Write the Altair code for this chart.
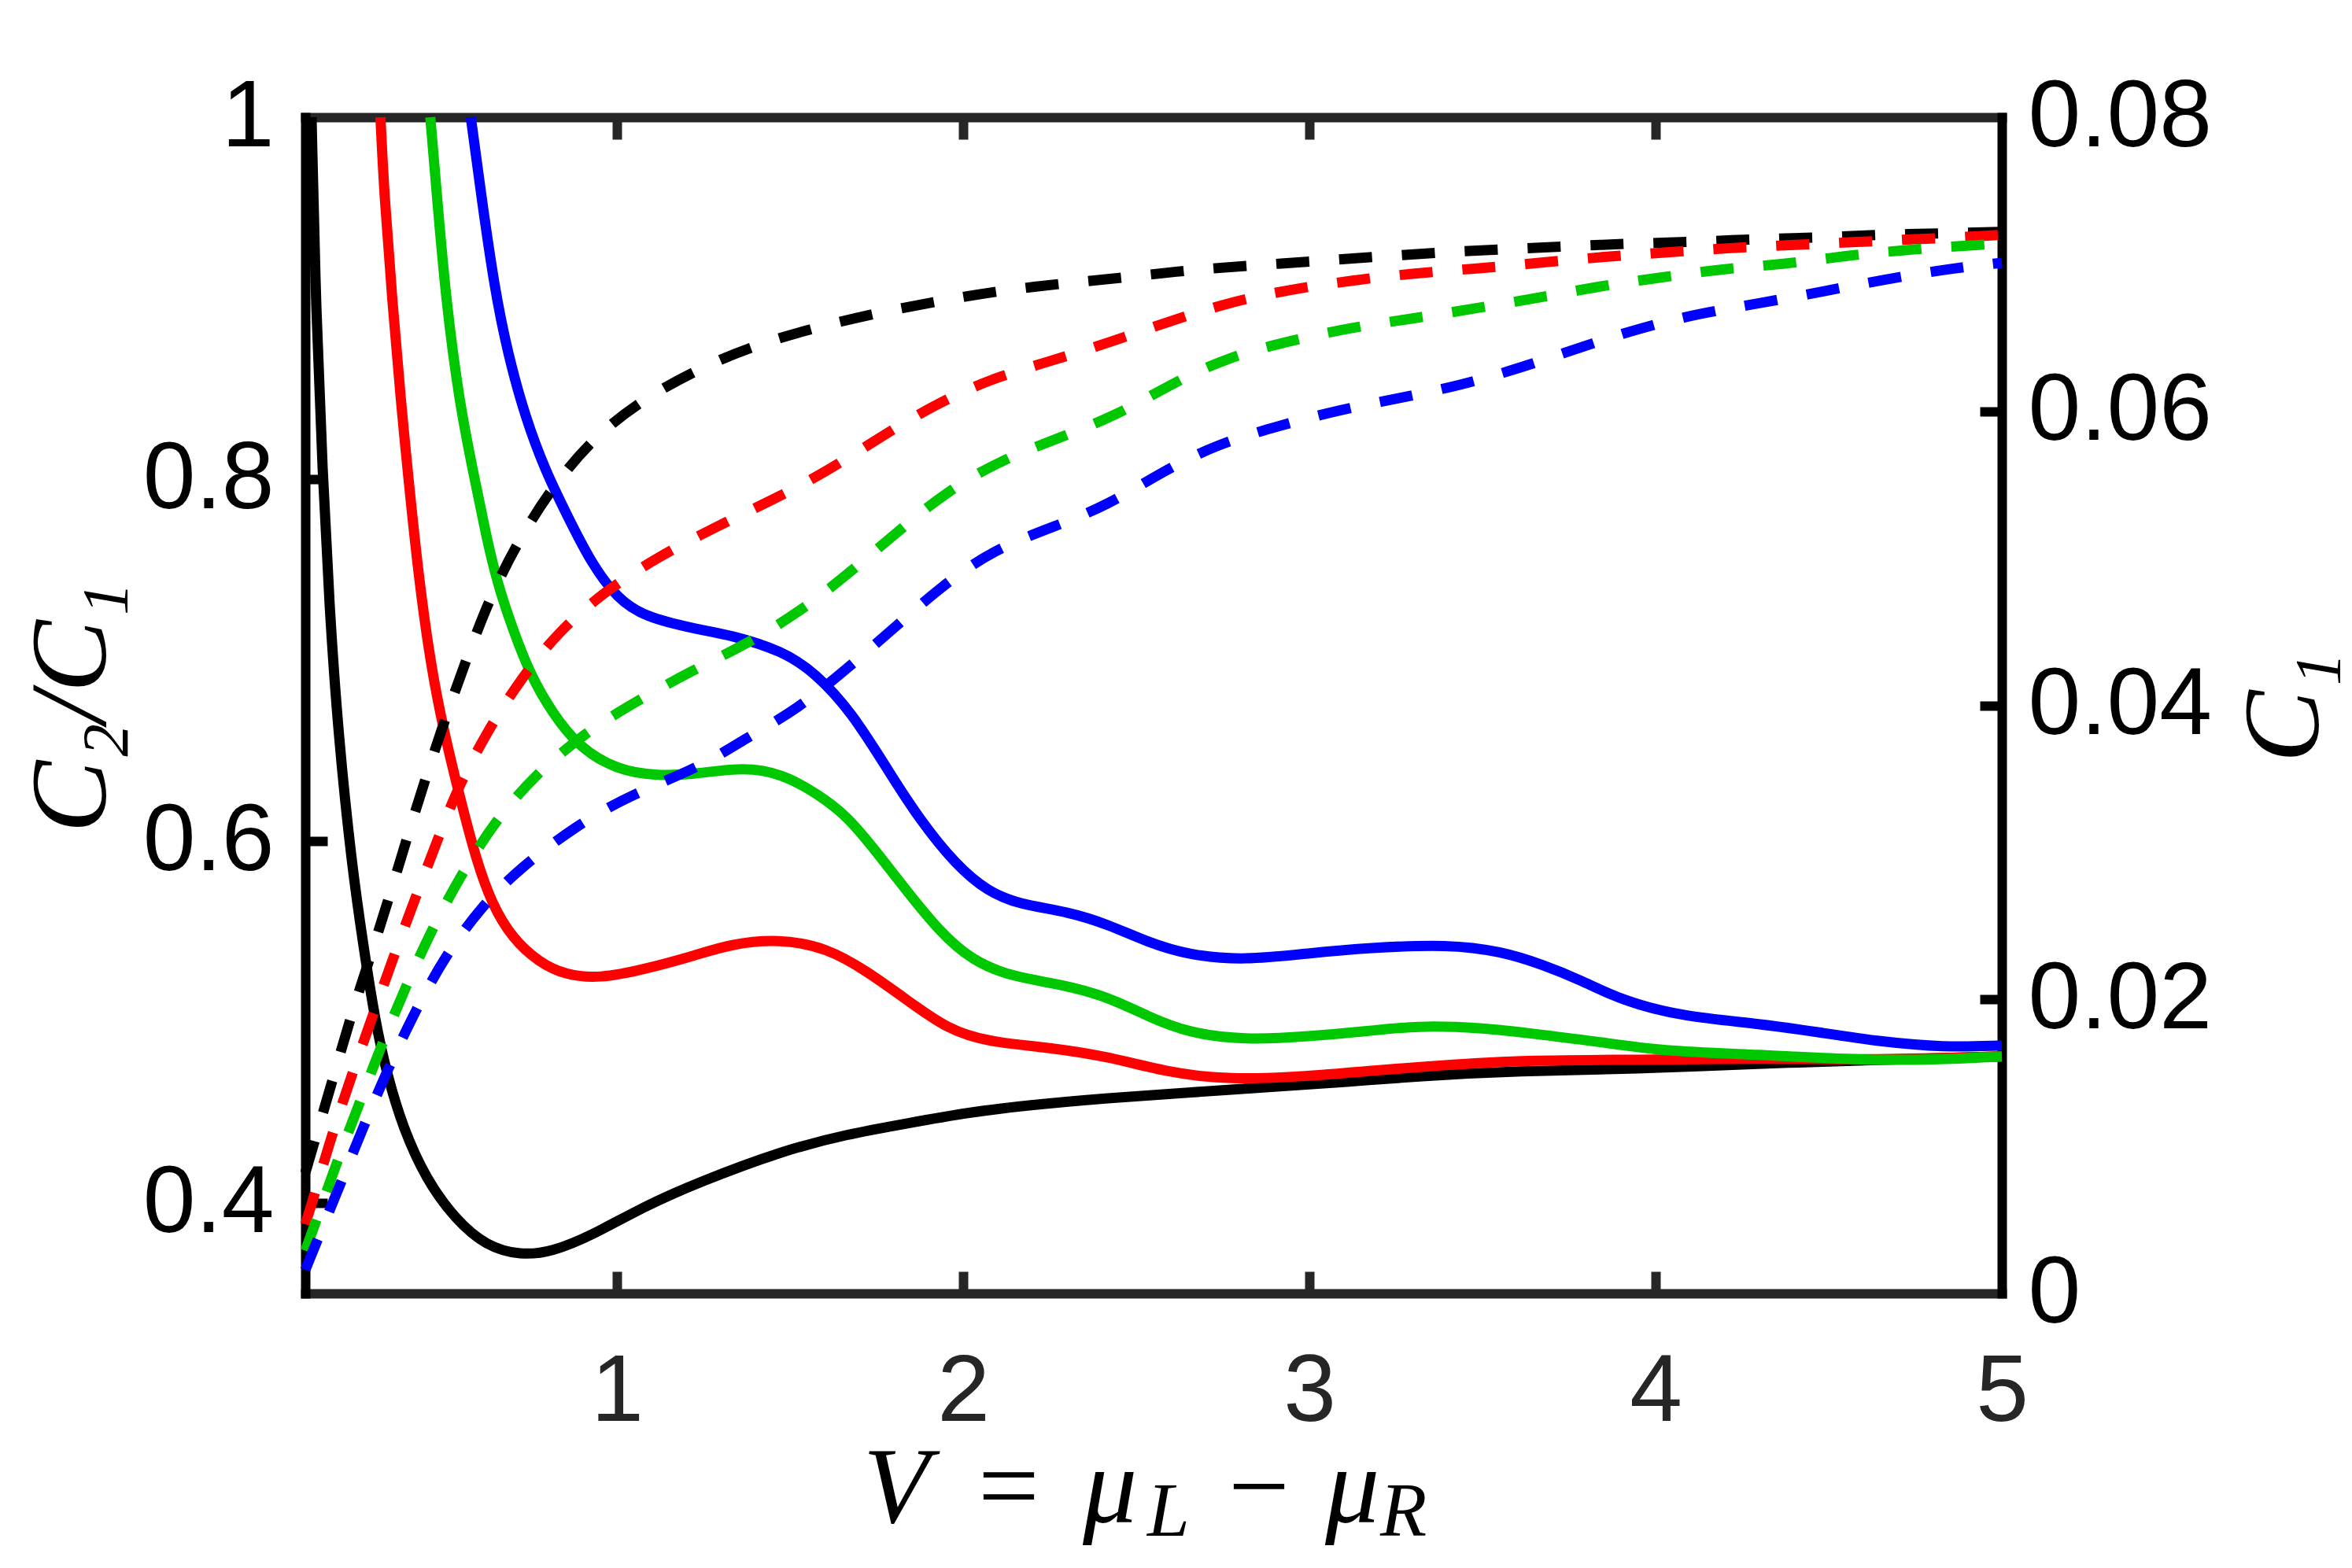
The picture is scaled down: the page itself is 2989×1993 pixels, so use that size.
import altair as alt
import pandas as pd

# ---------------- data ----------------
V_MIN, V_MAX = 0.1, 5.0
RATIO_MIN, RATIO_MAX = 0.35, 1.0
C1_MIN, C1_MAX = 0.0, 0.08

SERIES = ["black", "red", "green", "blue"]
COLORS = ["#000000", "#ff0000", "#00c800", "#0000ff"]

X_LABEL_TICKS = [1, 2, 3, 4, 5]
X_INNER_TICKS = [1, 2, 3, 4]
RATIO_LABEL_TICKS = [0.4, 0.6, 0.8, 1.0]
RATIO_INNER_TICKS = [0.4, 0.6, 0.8]
C1_LABEL_TICKS = [0, 0.02, 0.04, 0.06, 0.08]
C1_INNER_TICKS = [0.02, 0.04, 0.06]

# solid curves: C2/C1 (left axis)
BLACK_RATIO_V = [0.118, 0.131, 0.150, 0.169, 0.195, 0.234, 0.267, 0.302, 0.336, 0.381, 0.449, 0.533,
                 0.623, 0.722, 0.813, 0.927, 1.078, 1.23, 1.48, 1.665, 1.839, 2.013, 2.187, 2.418,
                 2.65, 2.882, 3.114, 3.309, 3.605, 3.946, 4.295, 4.636, 5.0]
BLACK_RATIO = [1.0, 0.891, 0.804, 0.731, 0.659, 0.587, 0.543, 0.500, 0.471, 0.442, 0.413, 0.391,
               0.376, 0.371, 0.373, 0.382, 0.398, 0.411, 0.429, 0.438, 0.444, 0.450, 0.454, 0.458,
               0.461, 0.464, 0.467, 0.470, 0.473, 0.474, 0.477, 0.479, 0.481]

RED_RATIO_V = [0.317, 0.328, 0.351, 0.377, 0.396, 0.427, 0.464, 0.502, 0.548, 0.593, 0.639, 0.699,
               0.775, 0.851, 0.949, 1.078, 1.23, 1.327, 1.469, 1.607, 1.723, 1.839, 1.955, 2.071,
               2.245, 2.418, 2.592, 2.766, 2.998, 3.172, 3.309, 3.605, 3.946, 4.295, 4.636, 5.0]
RED_RATIO = [1.0, 0.957, 0.899, 0.841, 0.804, 0.746, 0.695, 0.659, 0.623, 0.590, 0.565, 0.546,
             0.533, 0.526, 0.524, 0.529, 0.537, 0.543, 0.546, 0.541, 0.528, 0.512, 0.496, 0.489,
             0.486, 0.481, 0.472, 0.468, 0.470, 0.473, 0.475, 0.479, 0.479, 0.480, 0.479, 0.481]

GREEN_RATIO_V = [0.461, 0.480, 0.506, 0.546, 0.585, 0.623, 0.654, 0.699, 0.752, 0.813, 0.889, 1.002,
                 1.116, 1.23, 1.368, 1.48, 1.58, 1.665, 1.758, 1.839, 1.932, 2.025, 2.141, 2.280,
                 2.418, 2.534, 2.650, 2.812, 2.998, 3.172, 3.309, 3.491, 3.670, 3.840, 4.011, 4.295,
                 4.579, 4.806, 5.0]
GREEN_RATIO = [1.0, 0.957, 0.899, 0.841, 0.804, 0.768, 0.743, 0.717, 0.691, 0.671, 0.652, 0.639,
               0.636, 0.637, 0.641, 0.637, 0.626, 0.614, 0.592, 0.572, 0.550, 0.534, 0.525, 0.521,
               0.514, 0.503, 0.494, 0.490, 0.492, 0.495, 0.498, 0.497, 0.493, 0.489, 0.484, 0.482,
               0.479, 0.479, 0.481]

BLUE_RATIO_V = [0.578, 0.608, 0.646, 0.684, 0.737, 0.795, 0.851, 0.927, 1.002, 1.078, 1.23, 1.327,
                1.48, 1.572, 1.676, 1.793, 1.874, 1.978, 2.071, 2.163, 2.302, 2.418, 2.534, 2.650,
                2.812, 2.998, 3.172, 3.403, 3.554, 3.670, 3.786, 3.901, 4.075, 4.307, 4.481, 4.655,
                4.829, 5.0]
BLUE_RATIO = [1.0, 0.957, 0.906, 0.870, 0.833, 0.804, 0.782, 0.753, 0.734, 0.724, 0.717, 0.714,
              0.705, 0.693, 0.672, 0.636, 0.612, 0.587, 0.572, 0.565, 0.561, 0.554, 0.544, 0.537,
              0.534, 0.538, 0.541, 0.543, 0.539, 0.532, 0.523, 0.512, 0.503, 0.499, 0.494, 0.489,
              0.486, 0.487]

# dashed curves: C1 (right axis)
BLACK_C1_V = [0.1, 0.135, 0.186, 0.236, 0.292, 0.347, 0.399, 0.455, 0.51, 0.571, 0.638, 0.718,
              0.815, 0.932, 1.074, 1.236, 1.398, 1.574, 1.752, 1.929, 2.107, 2.289, 2.469, 2.648,
              2.828, 3.01, 3.19, 3.37, 3.55, 3.733, 3.913, 4.095, 4.275, 4.456, 4.638, 4.818, 5.0]
BLACK_C1 = [0.0082, 0.0110, 0.0151, 0.0192, 0.0232, 0.0273, 0.0314, 0.0356, 0.0395, 0.0435, 0.0476,
            0.0513, 0.0549, 0.0582, 0.0608, 0.0629, 0.0645, 0.0657, 0.0667, 0.0675, 0.0682, 0.0687,
            0.0691, 0.0696, 0.0699, 0.0702, 0.0705, 0.0708, 0.0710, 0.0712, 0.0714, 0.0715, 0.0717,
            0.0718, 0.0720, 0.0721, 0.0722]

RED_C1_V = [0.1, 0.12, 0.169, 0.226, 0.286, 0.346, 0.408, 0.475, 0.536, 0.622, 0.719, 0.83, 0.967,
            1.119, 1.282, 1.444, 1.607, 1.757, 1.914, 2.077, 2.251, 2.425, 2.593, 2.766, 2.946,
            3.124, 3.304, 3.483, 3.664, 3.845, 4.025, 4.206, 4.386, 4.568, 4.748, 4.93, 5.0]
RED_C1 = [0.0047, 0.0062, 0.0102, 0.0143, 0.0183, 0.0223, 0.0263, 0.0304, 0.0342, 0.0381, 0.0417,
          0.0450, 0.0478, 0.0501, 0.0521, 0.0539, 0.0559, 0.0582, 0.0604, 0.0622, 0.0634, 0.0647,
          0.0661, 0.0674, 0.0683, 0.0689, 0.0694, 0.0697, 0.0701, 0.0705, 0.0708, 0.0711, 0.0713,
          0.0715, 0.0717, 0.0719, 0.0720]

GREEN_C1_V = [0.1, 0.131, 0.192, 0.256, 0.320, 0.389, 0.464, 0.548, 0.647, 0.764, 0.911, 1.058,
              1.220, 1.378, 1.537, 1.676, 1.815, 1.955, 2.111, 2.279, 2.442, 2.604, 2.766, 2.946,
              3.12, 3.298, 3.48, 3.657, 3.835, 4.015, 4.195, 4.374, 4.554, 4.734, 4.916, 5.0]
GREEN_C1 = [0.0029, 0.0049, 0.0090, 0.0129, 0.0169, 0.0208, 0.0247, 0.0284, 0.0321, 0.0353, 0.0382,
            0.0403, 0.0424, 0.0442, 0.0465, 0.0491, 0.0519, 0.0546, 0.0567, 0.0582, 0.0597, 0.0619,
            0.0637, 0.0648, 0.0657, 0.0663, 0.0670, 0.0677, 0.0685, 0.0691, 0.0697, 0.0700, 0.0706,
            0.0710, 0.0713, 0.0714]

BLUE_C1_V = [0.1, 0.131, 0.199, 0.267, 0.339, 0.415, 0.502, 0.608, 0.718, 0.881, 1.038, 1.241,
             1.368, 1.52, 1.665, 1.798, 1.937, 2.088, 2.256, 2.418, 2.575, 2.737, 2.911, 3.085,
             3.263, 3.443, 3.617, 3.789, 3.959, 4.136, 4.315, 4.493, 4.670, 4.849, 5.0]
BLUE_C1 = [0.0016, 0.0034, 0.0073, 0.0113, 0.0153, 0.0191, 0.0229, 0.0263, 0.0289, 0.0318, 0.0339,
           0.0358, 0.0377, 0.0397, 0.0425, 0.0452, 0.0481, 0.0506, 0.0521, 0.0536, 0.0559, 0.0578,
           0.0590, 0.0601, 0.0609, 0.0618, 0.0630, 0.0644, 0.0657, 0.0667, 0.0674, 0.0682, 0.0690,
           0.0697, 0.0701]


def frame(v, vals, name, col):
    return pd.DataFrame({"V": v, col: vals, "series": name})


solid_df = pd.concat([
    frame(BLACK_RATIO_V, BLACK_RATIO, "black", "ratio"),
    frame(RED_RATIO_V, RED_RATIO, "red", "ratio"),
    frame(GREEN_RATIO_V, GREEN_RATIO, "green", "ratio"),
    frame(BLUE_RATIO_V, BLUE_RATIO, "blue", "ratio"),
], ignore_index=True)

dashed_df = pd.concat([
    frame(BLACK_C1_V, BLACK_C1, "black", "c1"),
    frame(RED_C1_V, RED_C1, "red", "c1"),
    frame(GREEN_C1_V, GREEN_C1, "green", "c1"),
    frame(BLUE_C1_V, BLUE_C1, "blue", "c1"),
], ignore_index=True)

# ---------------- layout / style ----------------
W, H = 2156, 1495
PAD = {"left": 380, "top": 141, "right": 430, "bottom": 335}
LABEL_FONT = "Liberation Sans"
MATH_FONT = "Liberation Serif"
LABEL_SIZE = 120
TITLE_SIZE = 138
SUB_SIZE = 97
AXIS_DARK = "#262626"
LINE_W = 13
CURVE = "basis"

x_scale = alt.Scale(domain=[V_MIN, V_MAX], nice=False, zero=False)
ratio_scale = alt.Scale(domain=[RATIO_MIN, RATIO_MAX], nice=False, zero=False)
c1_scale = alt.Scale(domain=[C1_MIN, C1_MAX], nice=False, zero=False)
color_enc = alt.Color("series:N", scale=alt.Scale(domain=SERIES, range=COLORS), legend=None)


def tick_axis(orient, values, offset, color, domain=False):
    opts = dict(orient=orient, values=values, offset=offset, labels=False, ticks=True,
                tickSize=28, tickWidth=12, tickColor=color, tickCap="butt", grid=False,
                title="", domain=domain)
    if domain:
        opts.update(domainColor=color, domainWidth=12, domainCap="square")
    return alt.Axis(**opts)


label_style = dict(labelFont=LABEL_FONT, labelFontSize=LABEL_SIZE, labelFlush=False,
                   labelOverlap=False, labelLimit=600, format="~g", ticks=False, tickSize=0,
                   grid=False, domain=True, domainWidth=12, domainCap="square")
title_style = dict(titleFont=MATH_FONT, titleFontStyle="italic", titleFontWeight="normal",
                   titleFontSize=TITLE_SIZE, titleColor="#000000", titleAngle=270,
                   titleAlign="center", titleBaseline="alphabetic", titleLimit=900)

bottom_axis = alt.Axis(orient="bottom", values=X_LABEL_TICKS, labelPadding=66,
                       labelColor=AXIS_DARK, domainColor=AXIS_DARK, title="", **label_style)

left_axis = alt.Axis(orient="left", values=RATIO_LABEL_TICKS, labelPadding=40,
                     labelColor="#000000", domainColor="#000000",
                     title="C₂/C₁", titleX=-255, titleY=750, **label_style, **title_style)

right_axis = alt.Axis(orient="right", values=C1_LABEL_TICKS, labelPadding=33,
                      labelColor="#000000", domainColor="#000000",
                      title="C₁", titleX=401, titleY=750, **label_style, **title_style)

solid = alt.Chart(solid_df).mark_line(strokeWidth=LINE_W, interpolate=CURVE).encode(
    x=alt.X("V:Q", scale=x_scale, axis=bottom_axis),
    y=alt.Y("ratio:Q", scale=ratio_scale, axis=left_axis),
    color=color_enc,
)

dashed = alt.Chart(dashed_df).mark_line(strokeWidth=LINE_W, strokeDash=[42, 38],
                                        interpolate=CURVE).encode(
    x=alt.X("V:Q", scale=x_scale, axis=tick_axis("top", X_INNER_TICKS, -H, AXIS_DARK)),
    y=alt.Y("c1:Q", scale=c1_scale, axis=right_axis),
    color=color_enc,
)

ticks_left = alt.Chart(solid_df).mark_line(opacity=0).encode(
    x=alt.X("V:Q", scale=x_scale,
            axis=tick_axis("bottom", X_INNER_TICKS, -H, AXIS_DARK, domain=True)),
    y=alt.Y("ratio:Q", scale=ratio_scale,
            axis=tick_axis("right", RATIO_INNER_TICKS, -W, "#000000")),
)

ticks_right = alt.Chart(dashed_df).mark_line(opacity=0).encode(
    x=alt.X("V:Q", scale=x_scale, axis=None),
    y=alt.Y("c1:Q", scale=c1_scale, axis=tick_axis("left", C1_INNER_TICKS, -W, "#000000")),
)

TEXT_ANCHOR = pd.DataFrame({"k": [0]})


def math_text(text, x, y, size, style, align="left"):
    return alt.Chart(TEXT_ANCHOR).mark_text(
        text=text, font=MATH_FONT, fontSize=size, fontStyle=style, align=align,
        baseline="alphabetic", color="#000000",
    ).encode(x=alt.value(x), y=alt.value(y))


XT_BASE = 1786
XT_SUB = 1803
x_title = [
    math_text("V", 709, XT_BASE, TITLE_SIZE, "italic"),
    math_text("=", 894, XT_BASE, TITLE_SIZE, "normal", "center"),
    math_text("μ", 988, XT_BASE, TITLE_SIZE, "italic"),
    math_text("L", 1070, XT_SUB, SUB_SIZE, "italic"),
    math_text("−", 1212, XT_BASE, TITLE_SIZE, "normal", "center"),
    math_text("μ", 1296, XT_BASE, TITLE_SIZE, "italic"),
    math_text("R", 1366, XT_SUB, SUB_SIZE, "italic"),
]

chart = alt.layer(solid, dashed, ticks_left, ticks_right, *x_title).resolve_scale(
    y="independent"
).resolve_axis(
    x="independent", y="independent"
).properties(
    width=W, height=H, padding=PAD,
    autosize=alt.AutoSizeParams(type="none"),
    background="white",
).configure_view(strokeWidth=0)

chart.save("out.html", embed_options={"renderer": "svg", "actions": False})
